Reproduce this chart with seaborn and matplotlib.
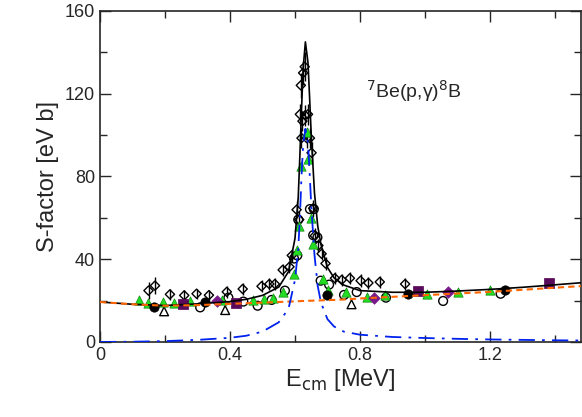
import matplotlib
matplotlib.use("Agg")
import matplotlib.pyplot as plt
import seaborn as sns
import numpy as np

# curves
curve_e = [0.0, 0.1, 0.2, 0.3, 0.4, 0.45, 0.5, 0.55, 0.58, 0.6, 0.61, 0.615, 0.62, 0.625, 0.632,
           0.64, 0.645, 0.65, 0.66, 0.67, 0.68, 0.7, 0.72, 0.75, 0.8, 0.9, 1.0, 1.1, 1.2, 1.3, 1.4, 1.48]
total = [19.3, 18.2, 17.6, 18.4, 19.5, 20.6, 22.5, 26.5, 34, 50, 70, 90, 112, 132, 145,
         135, 118, 100, 72, 56, 47, 36, 31, 27.5, 24.8, 24.0, 24.0, 24.6, 25.4, 26.4, 27.6, 28.6]
background = [19.3, 18.2, 17.5, 17.8, 18.4, 18.7, 19.0, 19.3, 19.5, 19.6, 19.7, 19.7, 19.8, 19.8, 19.8,
              19.9, 19.9, 19.9, 20.0, 20.0, 20.1, 20.2, 20.3, 20.5, 21.0, 21.8, 22.6, 23.4, 24.2, 25.2, 26.2, 27.0]
resonance = [0.0, 0.1, 0.4, 1.0, 2.0, 3.0, 5.0, 9.5, 16, 30, 45, 60, 80, 95, 103,
             96, 82, 66, 42, 27, 19, 11, 7.5, 5.0, 3.5, 2.4, 1.9, 1.5, 1.2, 1.0, 0.8, 0.7]

diam_e = [0.149, 0.169, 0.215, 0.259, 0.297, 0.335, 0.390, 0.439, 0.497, 0.521, 0.538, 0.562, 0.583,
          0.590, 0.605, 0.613, 0.615, 0.618, 0.620, 0.623, 0.625, 0.630, 0.631, 0.636, 0.640, 0.646,
          0.651, 0.656, 0.661, 0.672, 0.682, 0.694, 0.723, 0.744, 0.769, 0.802, 0.826, 0.861, 0.939]
diam_s = [24.8, 27.2, 23.0, 22.5, 23.3, 22.6, 24.2, 25.6, 26.9, 28.0, 28.0, 34.8, 36.3,
          41.8, 63.9, 59.1, 110, 124, 98.5, 106.7, 130, 133, 109.5, 98.5, 110, 98.5,
          91.4, 64.6, 51.3, 46.6, 42.6, 37.9, 30.8, 30.0, 30.8, 29.6, 28.5, 29.0, 28.0]
diam_err = [4, 4, 2.5, 2.5, 2.5, 2.5, 3, 3, 3, 3, 3, 3, 3,
            3, 4, 4, 5, 6, 5, 5, 6, 7, 5, 5, 5, 5,
            5, 4, 4, 3, 3, 3, 3, 3, 3, 3, 3, 3, 3]

ocirc_e = [0.308, 0.395, 0.441, 0.485, 0.528, 0.569, 0.597, 0.607, 0.610, 0.646, 0.658, 0.656,
           0.669, 0.679, 0.705, 0.751, 0.790, 0.880, 1.056, 1.233]
ocirc_s = [16.7, 21.4, 19.5, 17.5, 20.3, 24.8, 40.3, 41.8, 59.1, 64.2, 64.2, 51.6,
           50.5, 29.6, 27.7, 22.7, 24.1, 21.4, 19.8, 23.3]

gtri_e = [0.121, 0.146, 0.193, 0.226, 0.277, 0.374, 0.470, 0.505, 0.533, 0.564, 0.597, 0.607, 0.613,
          0.620, 0.641, 0.638, 0.648, 0.656, 0.687, 0.703, 0.757, 0.823, 0.877, 1.007, 1.103, 1.200]
gtri_s = [20.1, 18.6, 19.3, 18.9, 19.8, 20.3, 20.3, 20.9, 21.1, 24.2, 32.7, 44.2, 56.0,
          85.1, 88.2, 101.6, 59.9, 47.3, 30.5, 25.3, 24.2, 21.7, 22.6, 23.3, 24.2, 25.3]

psq_e = [0.254, 0.418, 0.980, 1.383]
psq_s = [18.2, 19.0, 24.5, 28.5]
pdia_e = [0.359, 0.843, 1.072]
pdia_s = [19.8, 21.4, 24.2]
fcirc_e = [0.166, 0.323, 0.700, 0.949, 1.246]
fcirc_s = [17.0, 19.3, 22.5, 23.3, 24.9]
otri_e = [0.197, 0.385, 0.774]
otri_s = [14.8, 15.4, 18.2]

sns.set_style("ticks")
plt.rcParams['font.family'] = ['Liberation Sans', 'DejaVu Sans']
fig, ax = plt.subplots(figsize=(5.82, 4.17), dpi=100)
fig.subplots_adjust(left=0.172, right=0.998, bottom=0.18, top=0.974)

ax.errorbar(diam_e, diam_s, yerr=diam_err, fmt='none', ecolor='black', elinewidth=1, zorder=3)
sns.scatterplot(x=diam_e, y=diam_s, marker='D', s=22, facecolor='none', edgecolor='black', linewidth=1, ax=ax, zorder=4)
sns.scatterplot(x=ocirc_e, y=ocirc_s, marker='o', s=40, facecolor='none', edgecolor='black', linewidth=1, ax=ax, zorder=4)
sns.scatterplot(x=otri_e, y=otri_s, marker='^', s=40, facecolor='none', edgecolor='black', linewidth=1, ax=ax, zorder=4)
sns.scatterplot(x=gtri_e, y=gtri_s, marker='^', s=45, color='#22dd22', edgecolor='#118811', linewidth=0.5, ax=ax, zorder=5)
sns.scatterplot(x=psq_e, y=psq_s, marker='s', s=45, color='#5a0a5a', edgecolor='#5a0a5a', ax=ax, zorder=5)
sns.scatterplot(x=pdia_e, y=pdia_s, marker='D', s=35, color='#7a1a8a', edgecolor='#7a1a8a', ax=ax, zorder=5)
sns.scatterplot(x=fcirc_e, y=fcirc_s, marker='o', s=45, color='black', edgecolor='black', ax=ax, zorder=5)

sns.lineplot(x=curve_e, y=total, color='black', linewidth=1.2, ax=ax, zorder=6)
sns.lineplot(x=curve_e, y=background, color='#ff6600', linewidth=1.5, ax=ax, zorder=6)
ax.lines[-1].set_dashes((3, 2))
sns.lineplot(x=curve_e, y=resonance, color='#0022ee', linewidth=1.3, ax=ax, zorder=6)
ax.lines[-1].set_dashes((9, 4, 1.5, 4))

ax.set_xlim(0, 1.48)
ax.set_ylim(0, 160)
ax.set_xticks([0, 0.4, 0.8, 1.2])
ax.set_xticklabels(['0', '0.4', '0.8', '1.2'])
ax.set_yticks([0, 40, 80, 120, 160])
ax.set_xticks([0.2, 0.6, 1.0, 1.4], minor=True)
ax.set_yticks([20, 60, 100, 140], minor=True)
ax.tick_params(which='both', direction='in', top=True, right=True, labelsize=13)
ax.tick_params(which='major', length=8, width=1)
ax.tick_params(which='minor', length=5, width=1)
for sp in ax.spines.values():
    sp.set_linewidth(1.2)

ax.set_xlabel(r'E$_{\rm cm}$ [MeV]', fontsize=17, labelpad=2)
ax.set_ylabel('S-factor [eV b]', fontsize=17, labelpad=4)
ax.text(0.82, 118, r'$^{7}$Be(p,γ)$^{8}$B', fontsize=14)

fig.savefig('out.png', dpi=100)
